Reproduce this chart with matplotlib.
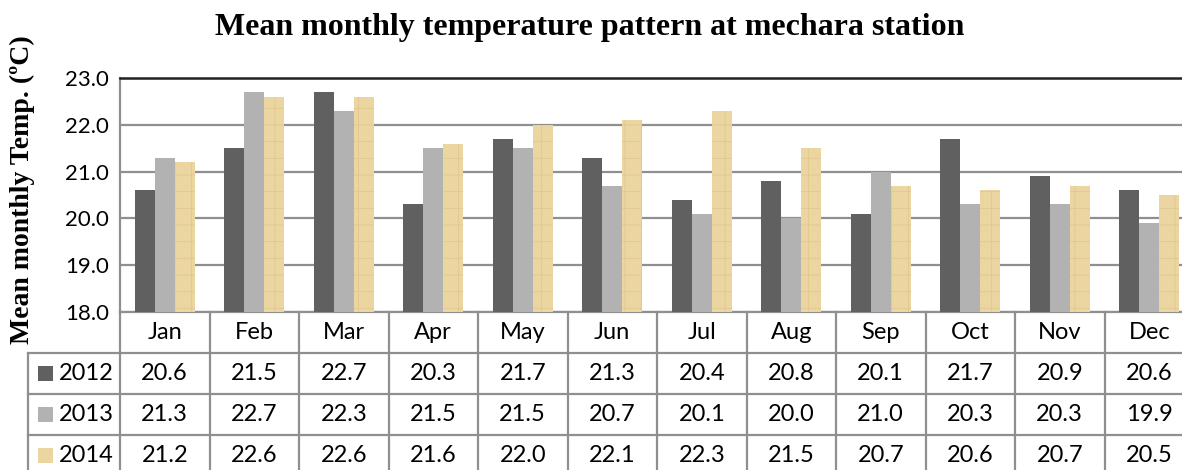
import numpy as np
import matplotlib.pyplot as plt
from matplotlib.transforms import blended_transform_factory
from matplotlib.patches import Rectangle

months = ['Jan', 'Feb', 'Mar', 'Apr', 'May', 'Jun',
          'Jul', 'Aug', 'Sep', 'Oct', 'Nov', 'Dec']
years = ['2012', '2013', '2014']
t2012 = [20.6, 21.5, 22.7, 20.3, 21.7, 21.3, 20.4, 20.8, 20.1, 21.7, 20.9, 20.6]
t2013 = [21.3, 22.7, 22.3, 21.5, 21.5, 20.7, 20.1, 20.0, 21.0, 20.3, 20.3, 19.9]
t2014 = [21.2, 22.6, 22.6, 21.6, 22.0, 22.1, 22.3, 21.5, 20.7, 20.6, 20.7, 20.5]
yticks = [18.0, 19.0, 20.0, 21.0, 22.0, 23.0]

series = [t2012, t2013, t2014]
colors = ['#606060', '#b2b2b2', '#ebd5a0']
grid_c = '#8f8f8f'
lab_font = ['Lato', 'DejaVu Sans']
plt.rcParams['hatch.linewidth'] = 0.5

W, H = 1182, 470
fig = plt.figure(figsize=(W / 100, H / 100), dpi=100)
# plot area in pixels: x 120..1194 (cut by the image edge), y 78..312
ax = fig.add_axes([120 / W, (H - 312) / H, 1074 / W, 234 / H])

x = np.arange(len(months))
bw = 0.223
for i, (vals, c) in enumerate(zip(series, colors)):
    if i == 2:
        # papyrus-like fill for 2014
        ax.bar(x + (i - 1) * bw, np.array(vals) - 18, bw, bottom=18,
               color=c, edgecolor='#e0c68e', hatch='+', linewidth=0, zorder=3)
    else:
        ax.bar(x + (i - 1) * bw, np.array(vals) - 18, bw, bottom=18,
               color=c, linewidth=0, zorder=3)

ax.set_xlim(-0.5, len(months) - 0.5)
ax.set_ylim(18, 23)
ax.set_yticks(yticks)
ax.set_yticklabels(['%.1f' % v for v in yticks], fontsize=16, family=lab_font)
ax.set_xticks([])
ax.tick_params(axis='y', length=0, pad=8)
ax.yaxis.grid(True, color=grid_c, lw=1.6, zorder=0)
for s in ['left', 'bottom', 'right']:
    ax.spines[s].set_color(grid_c)
    ax.spines[s].set_linewidth(1.6)
ax.spines['top'].set_color('#222222')
ax.spines['top'].set_linewidth(1.8)

# data table below the axes: x in data units, y in axes fraction
tr = blended_transform_factory(ax.transData, ax.transAxes)
rh = 41 / 234
px = 1074 / 12  # pixels per category
x_left = -0.5 - (120 - 28) / px
x_right = len(months) - 0.5
n_rows = len(years) + 1

def hline(y, x0, x1):
    ax.plot([x0, x1], [y, y], color=grid_c, lw=1.6, transform=tr, clip_on=False)

def vline(xv, y0, y1):
    ax.plot([xv, xv], [y0, y1], color=grid_c, lw=1.6, transform=tr, clip_on=False)

for r in range(1, n_rows + 1):
    hline(-r * rh, x_left, x_right)
vline(x_left, -rh, -n_rows * rh)
for b in np.arange(-0.5, len(months) + 0.5, 1.0):
    vline(b, 0, -n_rows * rh)

for j, m in enumerate(months):
    ax.text(j, -0.5 * rh, m, ha='center', va='center', fontsize=17,
            family=lab_font, transform=tr)
    for r, vals in enumerate(series):
        ax.text(j, -(r + 1.5) * rh, '%.1f' % vals[j], ha='center', va='center',
                fontsize=17, family=lab_font, transform=tr)

sq = 15 / px
for r, (yr, c) in enumerate(zip(years, colors)):
    yc = -(r + 1.5) * rh
    x0 = -0.5 + (38 - 120) / px
    ax.add_patch(Rectangle((x0, yc - 7.5 / 234), sq, 15 / 234, facecolor=c,
                           edgecolor='none', transform=tr, clip_on=False))
    ax.text(-0.5 + (59 - 120) / px, yc, yr, ha='left', va='center', fontsize=17,
            family=lab_font, transform=tr)

fig.text(590 / W, 1 - 28 / H, 'Mean monthly temperature pattern at mechara station',
         ha='center', va='center', fontsize=23, fontweight='bold',
         family='Liberation Serif')
fig.text(22 / W, 1 - 190 / H, 'Mean monthly Temp. (ºC)', rotation=90,
         ha='center', va='center', fontsize=20, fontweight='bold',
         family='Liberation Serif')

fig.savefig('out.png', dpi=100)
